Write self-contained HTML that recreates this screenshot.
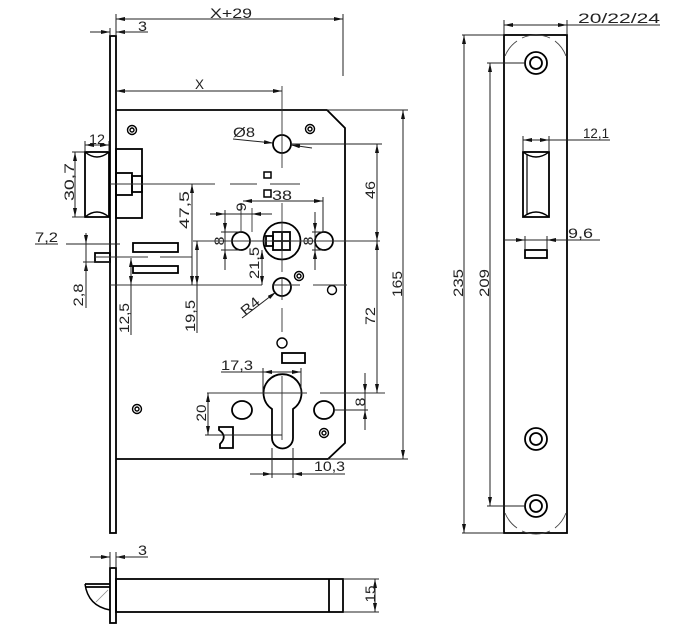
<!DOCTYPE html>
<html><head><meta charset="utf-8"><style>
html,body{margin:0;padding:0;background:#fff;}
svg{display:block;}
text{font-family:"Liberation Sans",sans-serif;font-size:14px;fill:#222;}
</style></head><body>
<svg width="690" height="633" viewBox="0 0 690 633" xmlns="http://www.w3.org/2000/svg">
<defs>
<marker id="a" viewBox="0 0 9 4" refX="9" refY="2" markerWidth="9" markerHeight="4" orient="auto-start-reverse" markerUnits="userSpaceOnUse"><path d="M0,0L9,2L0,4z" fill="#111"/></marker>
</defs>
<rect width="690" height="633" fill="#fff"/>

<!-- ========== MAIN OUTLINES ========== -->
<g fill="none" stroke="#000" stroke-width="1.8">
  <rect x="110" y="36" width="6" height="497"/>
  <path d="M116,110 L327,110 L345,128 L345,443 L328,459 L116,459"/>
  <rect x="85" y="152" width="24" height="65"/>
  <path d="M85,152 Q97,162 109,152 M85,217 Q97,207 109,217" stroke-width="1.4"/>
  <rect x="116" y="149" width="26" height="69"/>
  <rect x="116" y="173" width="16" height="22"/>
  <rect x="132" y="176" width="10" height="16"/>
  <rect x="133" y="243" width="45" height="9"/>
  <rect x="133" y="266" width="45" height="7"/>
  <rect x="95" y="253" width="15" height="9"/>
  <circle cx="282" cy="144" r="9"/>
  <rect x="264" y="172" width="7" height="6" stroke-width="1.5"/>
  <rect x="264" y="190" width="7" height="7" stroke-width="1.5"/>
  <circle cx="282" cy="241" r="18.5"/>
  <rect x="273" y="232" width="17" height="18"/>
  <rect x="266" y="236" width="7" height="10"/>
  <line x1="282" y1="232" x2="282" y2="250"/>
  <line x1="273" y1="241" x2="290" y2="241"/>
  <circle cx="241" cy="241" r="9"/>
  <circle cx="324" cy="241" r="9"/>
  <circle cx="282" cy="287" r="9"/>
  <circle cx="332" cy="290" r="4.5" stroke-width="1.4"/>
  <circle cx="282" cy="343" r="5" stroke-width="1.4"/>
  <rect x="282" y="353" width="23" height="10"/>
  <path d="M272,409 A19,19 0 1,1 293,409 L293,438 A10.5,10.5 0 0,1 272,438 Z"/>
  <ellipse cx="242" cy="410" rx="10" ry="9"/>
  <ellipse cx="324" cy="410" rx="10" ry="9"/>
  <path d="M219,427 L233,427 L233,448 L220,448 L220,444 Q228,436 219,430 Z"/>
</g>

<!-- screws -->
<g fill="none" stroke="#000" stroke-width="1.4">
  <circle cx="132" cy="130" r="4.5"/><circle cx="132" cy="130" r="2"/>
  <circle cx="310" cy="129" r="4.5"/><circle cx="310" cy="129" r="2"/>
  <circle cx="299" cy="276" r="4.5"/><circle cx="299" cy="276" r="2"/>
  <circle cx="137" cy="409" r="4.5"/><circle cx="137" cy="409" r="2"/>
  <circle cx="324" cy="433" r="4.5"/><circle cx="324" cy="433" r="2"/>
</g>

<!-- ========== RIGHT VIEW ========== -->
<g fill="none" stroke="#000" stroke-width="1.8">
  <rect x="504" y="35" width="63" height="498"/>
  <circle cx="536" cy="63" r="11"/><circle cx="536" cy="63" r="6"/>
  <circle cx="536" cy="439" r="11"/><circle cx="536" cy="439" r="6"/>
  <circle cx="536" cy="506" r="11"/><circle cx="536" cy="506" r="6"/>
  <rect x="523" y="152" width="26" height="65"/>
  <path d="M523,152 Q536,162 549,152 M523,217 Q536,207 549,217" stroke-width="1.4"/>
  <line x1="527" y1="155" x2="527" y2="214" stroke-width="1.2"/>
  <rect x="525" y="250" width="22" height="8"/>
</g>
<g fill="none" stroke="#444" stroke-width="0.9">
  <path d="M505,56 A34,34 0 0,1 517,41"/>
  <path d="M522,38 A34,34 0 0,1 550,38"/>
  <path d="M555,41 A34,34 0 0,1 566,56"/>
  <path d="M505,513 A34,34 0 0,0 517,528"/>
  <path d="M522,531 A34,34 0 0,0 550,531"/>
  <path d="M555,528 A34,34 0 0,0 566,513"/>
</g>

<!-- ========== BOTTOM VIEW ========== -->
<g fill="none" stroke="#000" stroke-width="1.8">
  <rect x="110" y="568" width="6" height="55"/>
  <rect x="116" y="579" width="227" height="33"/>
  <line x1="329" y1="579" x2="329" y2="612"/>
  <path d="M85,584 L110,584 M85,587 L110,587"/>
  <path d="M85,584 Q88,606 110,610" stroke-width="1.5"/>
</g>
<path d="M96,602 L108,590" stroke="#888" stroke-width="0.8" fill="none"/>

<!-- ========== CENTER LINES ========== -->
<g fill="none" stroke="#333" stroke-width="0.9">
  <path d="M110,184 H215 M230,184 H257 M270,184 H300"/>
  <path d="M193,241 H380"/>
  <path d="M110,285 H262 M272,285 H300 M313,285 H347"/>
  <path d="M95,257 H148 M160,257 H192"/>
  <path d="M207,393 H307 M320,393 H385"/>
  <path d="M282,86 V168 M282,203 V272 M282,278 V300 M282,308 V332 M282,376 V440"/>
  <path d="M241,203 V232 M252,208 V232"/>
</g>

<!-- ========== DIMENSIONS ========== -->
<g fill="none" stroke="#222" stroke-width="1">
  <line x1="116" y1="19" x2="343" y2="19" marker-start="url(#a)" marker-end="url(#a)"/>
  <line x1="343" y1="14" x2="343" y2="76"/>
  <line x1="116" y1="14" x2="116" y2="36"/>
  <line x1="110" y1="28" x2="110" y2="36"/>
  <line x1="90" y1="32" x2="110" y2="32" marker-end="url(#a)"/>
  <line x1="130" y1="32" x2="116" y2="32" marker-end="url(#a)"/>
  <line x1="116" y1="32" x2="148" y2="32"/>
  <line x1="116" y1="91" x2="282" y2="91" marker-start="url(#a)" marker-end="url(#a)"/>
  <line x1="233" y1="139" x2="273" y2="143" marker-end="url(#a)"/>
  <line x1="312" y1="148" x2="291" y2="145" marker-end="url(#a)"/>
  <line x1="291" y1="144" x2="382" y2="144"/>
  <line x1="85" y1="145" x2="109" y2="145" marker-start="url(#a)" marker-end="url(#a)"/>
  <line x1="85" y1="141" x2="85" y2="152"/>
  <line x1="109" y1="141" x2="109" y2="152"/>
  <line x1="75" y1="152" x2="75" y2="217" marker-start="url(#a)" marker-end="url(#a)"/>
  <line x1="72" y1="152" x2="85" y2="152"/>
  <line x1="72" y1="217" x2="85" y2="217"/>
  <line x1="35" y1="244" x2="58" y2="244"/>
  <line x1="66" y1="244" x2="120" y2="244"/>
  <line x1="83" y1="262" x2="110" y2="262"/>
  <line x1="86" y1="233" x2="86" y2="244" marker-end="url(#a)"/>
  <line x1="86" y1="274" x2="86" y2="262" marker-end="url(#a)"/>
  <line x1="86" y1="244" x2="86" y2="308"/>
  <line x1="131" y1="335" x2="131" y2="258" marker-end="url(#a)"/>
  <line x1="131" y1="275" x2="131" y2="285" marker-end="url(#a)"/>
  <line x1="192" y1="184" x2="192" y2="285" marker-start="url(#a)" marker-end="url(#a)"/>
  <line x1="197" y1="241" x2="197" y2="285" marker-start="url(#a)" marker-end="url(#a)"/>
  <line x1="197" y1="285" x2="197" y2="333"/>
  <line x1="243" y1="201" x2="323" y2="201" marker-start="url(#a)" marker-end="url(#a)"/>
  <line x1="323" y1="197" x2="323" y2="232"/>
  <line x1="210" y1="214" x2="272" y2="214"/>
  <line x1="212" y1="214" x2="225" y2="214" marker-end="url(#a)"/>
  <line x1="265" y1="214" x2="252" y2="214" marker-end="url(#a)"/>
  <line x1="225" y1="210" x2="225" y2="270"/>
  <line x1="225" y1="219" x2="225" y2="232" marker-end="url(#a)"/>
  <line x1="225" y1="264" x2="225" y2="250" marker-end="url(#a)"/>
  <line x1="221" y1="232" x2="241" y2="232"/>
  <line x1="221" y1="250" x2="241" y2="250"/>
  <line x1="315" y1="212" x2="315" y2="270"/>
  <line x1="315" y1="219" x2="315" y2="232" marker-end="url(#a)"/>
  <line x1="315" y1="264" x2="315" y2="250" marker-end="url(#a)"/>
  <line x1="312" y1="232" x2="324" y2="232"/>
  <line x1="312" y1="250" x2="324" y2="250"/>
  <line x1="262" y1="250" x2="262" y2="285" marker-start="url(#a)" marker-end="url(#a)"/>
  <line x1="242" y1="318" x2="276" y2="292" marker-end="url(#a)"/>
  <line x1="377" y1="144" x2="377" y2="241" marker-start="url(#a)" marker-end="url(#a)"/>
  <line x1="377" y1="241" x2="377" y2="393" marker-start="url(#a)" marker-end="url(#a)"/>
  <line x1="327" y1="110" x2="408" y2="110"/>
  <line x1="328" y1="459" x2="408" y2="459"/>
  <line x1="403" y1="110" x2="403" y2="459" marker-start="url(#a)" marker-end="url(#a)"/>
  <line x1="221" y1="372" x2="263" y2="372"/>
  <line x1="263" y1="372" x2="301" y2="372" marker-start="url(#a)" marker-end="url(#a)"/>
  <line x1="263" y1="368" x2="263" y2="393"/>
  <line x1="301" y1="368" x2="301" y2="393"/>
  <line x1="334" y1="410" x2="368" y2="410"/>
  <line x1="365" y1="373" x2="365" y2="430"/>
  <line x1="365" y1="380" x2="365" y2="393" marker-end="url(#a)"/>
  <line x1="365" y1="423" x2="365" y2="410" marker-end="url(#a)"/>
  <line x1="208" y1="393" x2="208" y2="435" marker-start="url(#a)" marker-end="url(#a)"/>
  <line x1="205" y1="435" x2="282" y2="435"/>
  <line x1="272" y1="448" x2="272" y2="478"/>
  <line x1="293" y1="448" x2="293" y2="478"/>
  <line x1="250" y1="474" x2="345" y2="474"/>
  <line x1="256" y1="474" x2="272" y2="474" marker-end="url(#a)"/>
  <line x1="309" y1="474" x2="293" y2="474" marker-end="url(#a)"/>
  <line x1="504" y1="20" x2="504" y2="35"/>
  <line x1="567" y1="20" x2="567" y2="35"/>
  <line x1="504" y1="25" x2="567" y2="25" marker-start="url(#a)" marker-end="url(#a)"/>
  <line x1="567" y1="25" x2="660" y2="25"/>
  <line x1="462" y1="35" x2="504" y2="35"/>
  <line x1="462" y1="533" x2="504" y2="533"/>
  <line x1="464" y1="35" x2="464" y2="533" marker-start="url(#a)" marker-end="url(#a)"/>
  <line x1="487" y1="63" x2="525" y2="63"/>
  <line x1="487" y1="506" x2="525" y2="506"/>
  <line x1="490" y1="63" x2="490" y2="506" marker-start="url(#a)" marker-end="url(#a)"/>
  <line x1="523" y1="136" x2="523" y2="152"/>
  <line x1="549" y1="136" x2="549" y2="152"/>
  <line x1="523" y1="140" x2="549" y2="140" marker-start="url(#a)" marker-end="url(#a)"/>
  <line x1="549" y1="140" x2="610" y2="140"/>
  <line x1="525" y1="236" x2="525" y2="250"/>
  <line x1="547" y1="236" x2="547" y2="250"/>
  <line x1="504" y1="240" x2="600" y2="240"/>
  <line x1="508" y1="240" x2="525" y2="240" marker-end="url(#a)"/>
  <line x1="562" y1="240" x2="547" y2="240" marker-end="url(#a)"/>
  <line x1="110" y1="552" x2="110" y2="568"/>
  <line x1="116" y1="552" x2="116" y2="568"/>
  <line x1="90" y1="557" x2="110" y2="557" marker-end="url(#a)"/>
  <line x1="130" y1="557" x2="116" y2="557" marker-end="url(#a)"/>
  <line x1="116" y1="557" x2="148" y2="557"/>
  <line x1="343" y1="579" x2="379" y2="579"/>
  <line x1="343" y1="612" x2="379" y2="612"/>
  <line x1="375" y1="579" x2="375" y2="612" marker-start="url(#a)" marker-end="url(#a)"/>
</g>

<!-- ========== TEXT ========== -->
<g>
  <text x="210" y="18" textLength="42" lengthAdjust="spacingAndGlyphs">X+29</text>
  <text x="138" y="31" textLength="9" lengthAdjust="spacingAndGlyphs">3</text>
  <text x="195" y="89" textLength="9" lengthAdjust="spacingAndGlyphs">X</text>
  <text x="233" y="137" textLength="22" lengthAdjust="spacingAndGlyphs">Ø8</text>
  <text x="89" y="144" textLength="16" lengthAdjust="spacingAndGlyphs">12</text>
  <text x="272" y="200" textLength="20" lengthAdjust="spacingAndGlyphs">38</text>
  <text x="35" y="242" textLength="23" lengthAdjust="spacingAndGlyphs">7,2</text>
  <text x="221" y="370" textLength="32" lengthAdjust="spacingAndGlyphs">17,3</text>
  <text x="314" y="471" textLength="31" lengthAdjust="spacingAndGlyphs">10,3</text>
  <text x="578" y="23" textLength="82" lengthAdjust="spacingAndGlyphs">20/22/24</text>
  <text x="583" y="138" textLength="26" lengthAdjust="spacingAndGlyphs">12,1</text>
  <text x="568" y="238" textLength="25" lengthAdjust="spacingAndGlyphs">9,6</text>
  <text x="138" y="555" textLength="9" lengthAdjust="spacingAndGlyphs">3</text>

  <g text-anchor="middle">
    <text transform="translate(69,182) rotate(-90)" y="5" textLength="38" lengthAdjust="spacingAndGlyphs">30,7</text>
    <text transform="translate(78,295) rotate(-90)" y="5" textLength="23" lengthAdjust="spacingAndGlyphs">2,8</text>
    <text transform="translate(124,318) rotate(-90)" y="5" textLength="30" lengthAdjust="spacingAndGlyphs">12,5</text>
    <text transform="translate(184,210) rotate(-90)" y="5" textLength="38" lengthAdjust="spacingAndGlyphs">47,5</text>
    <text transform="translate(190,316) rotate(-90)" y="5" textLength="32" lengthAdjust="spacingAndGlyphs">19,5</text>
    <text transform="translate(241,207) rotate(-90)" y="5" textLength="9" lengthAdjust="spacingAndGlyphs">9</text>
    <text transform="translate(219,241) rotate(-90)" y="5" textLength="9" lengthAdjust="spacingAndGlyphs">8</text>
    <text transform="translate(308,241) rotate(-90)" y="5" textLength="9" lengthAdjust="spacingAndGlyphs">8</text>
    <text transform="translate(254,263) rotate(-90)" y="5" textLength="32" lengthAdjust="spacingAndGlyphs">21,5</text>
    <text transform="translate(250,306) rotate(-40)" y="5" textLength="20" lengthAdjust="spacingAndGlyphs">R4</text>
    <text transform="translate(370,190) rotate(-90)" y="5" textLength="18" lengthAdjust="spacingAndGlyphs">46</text>
    <text transform="translate(370,316) rotate(-90)" y="5" textLength="18" lengthAdjust="spacingAndGlyphs">72</text>
    <text transform="translate(397,284) rotate(-90)" y="5" textLength="26" lengthAdjust="spacingAndGlyphs">165</text>
    <text transform="translate(360,402) rotate(-90)" y="5" textLength="9" lengthAdjust="spacingAndGlyphs">8</text>
    <text transform="translate(201,413) rotate(-90)" y="5" textLength="17" lengthAdjust="spacingAndGlyphs">20</text>
    <text transform="translate(458,283) rotate(-90)" y="5" textLength="28" lengthAdjust="spacingAndGlyphs">235</text>
    <text transform="translate(484,283) rotate(-90)" y="5" textLength="28" lengthAdjust="spacingAndGlyphs">209</text>
    <text transform="translate(370,594) rotate(-90)" y="5" textLength="17" lengthAdjust="spacingAndGlyphs">15</text>
  </g>
</g>
</svg>
</body></html>
